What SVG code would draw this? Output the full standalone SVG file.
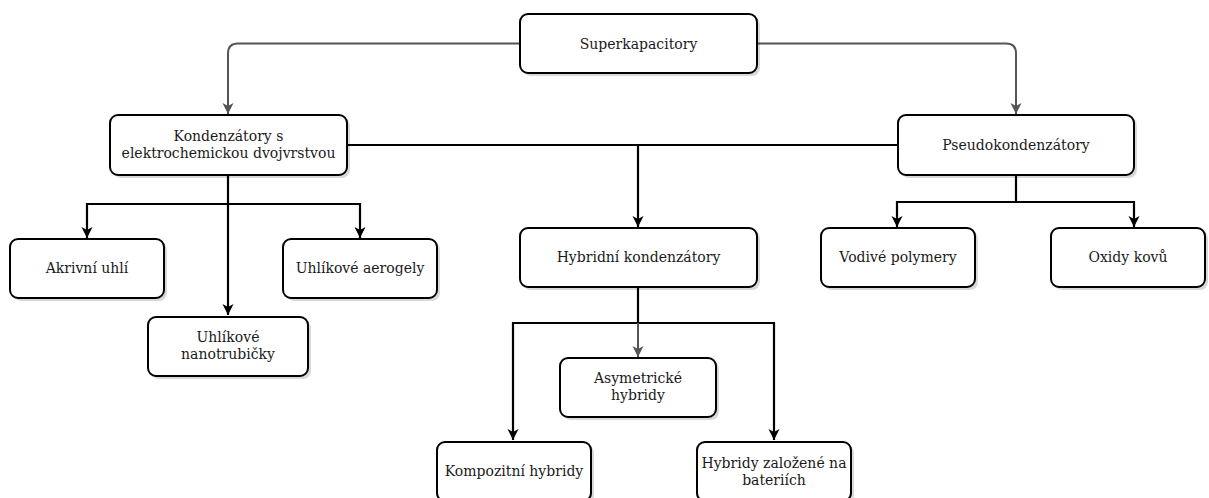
<svg xmlns="http://www.w3.org/2000/svg" width="1209" height="498" viewBox="0 0 1209 498">
<defs>
<style>
.box{fill:#fff;stroke:#000;stroke-width:2}
.sh{fill:#000;opacity:0.15}
.t{font-family:"DejaVu Serif","Liberation Serif",serif;font-size:14px;fill:#1a1a1a;text-anchor:middle}
.c{fill:none;stroke:#000;stroke-width:2.2}
.g{fill:none;stroke:#555;stroke-width:2}
</style>
<marker id="ab" markerWidth="12" markerHeight="12" refX="11" refY="6" orient="auto" markerUnits="userSpaceOnUse"><path d="M0,0.5 L11,6 L0,11.5 L3,6 z" fill="#000"/></marker>
<marker id="ag" markerWidth="12" markerHeight="12" refX="11" refY="6" orient="auto" markerUnits="userSpaceOnUse"><path d="M0,0.5 L11,6 L0,11.5 L3,6 z" fill="#555"/></marker>
</defs>
<rect width="1209" height="498" fill="#fff"/>
<g id="connectors">
<path class="g" d="M520,43.5 H238 Q228,43.5 228,53.5 V114" marker-end="url(#ag)"/>
<path class="g" d="M757,43.5 H1006 Q1016,43.5 1016,53.5 V114" marker-end="url(#ag)"/>
<path class="c" d="M347,145 H898"/>
<path class="c" d="M638,145 V227" marker-end="url(#ab)"/>
<path class="c" d="M228,175 V315" marker-end="url(#ab)"/>
<path class="c" d="M228,204 H87 V238" marker-end="url(#ab)"/>
<path class="c" d="M228,204 H360 V238" marker-end="url(#ab)"/>
<path class="c" d="M1016,175 V202"/>
<path class="c" d="M1016,202 H897 V227" marker-end="url(#ab)"/>
<path class="c" d="M1016,202 H1134 V227" marker-end="url(#ab)"/>
<path class="c" d="M638,287 V323"/>
<path class="c" d="M638,323 H513 V440" marker-end="url(#ab)"/>
<path class="c" d="M638,323 H774 V440" marker-end="url(#ab)"/>
<path class="g" d="M638,323 V357" marker-end="url(#ag)"/>
</g>
<g id="n-super"><rect class="sh" x="523" y="17" width="237" height="59" rx="8"/><rect class="box" x="520" y="14" width="237" height="59" rx="8"/><text class="t" x="638.5" y="48.5">Superkapacitory</text></g>
<g id="n-kond"><rect class="sh" x="113" y="118" width="237" height="60" rx="8"/><rect class="box" x="110" y="115" width="237" height="60" rx="8"/><text class="t" x="228.5" y="140.5">Kondenzátory s</text><text class="t" x="228.5" y="157.5">elektrochemickou dvojvrstvou</text></g>
<g id="n-pseudo"><rect class="sh" x="901" y="118" width="236" height="60" rx="8"/><rect class="box" x="898" y="115" width="236" height="60" rx="8"/><text class="t" x="1016" y="149.5">Pseudokondenzátory</text></g>
<g id="n-akriv"><rect class="sh" x="13" y="242" width="154" height="59" rx="8"/><rect class="box" x="10" y="239" width="154" height="59" rx="8"/><text class="t" x="87" y="273">Akrivní uhlí</text></g>
<g id="n-aerog"><rect class="sh" x="286" y="242" width="154" height="59" rx="8"/><rect class="box" x="283" y="239" width="154" height="59" rx="8"/><text class="t" x="360" y="273">Uhlíkové aerogely</text></g>
<g id="n-nano"><rect class="sh" x="151" y="320" width="160" height="59" rx="8"/><rect class="box" x="148" y="317" width="160" height="59" rx="8"/><text class="t" x="228" y="342">Uhlíkové</text><text class="t" x="228" y="359">nanotrubičky</text></g>
<g id="n-hybrid"><rect class="sh" x="523" y="231" width="237" height="59" rx="8"/><rect class="box" x="520" y="228" width="237" height="59" rx="8"/><text class="t" x="638.5" y="262">Hybridní kondenzátory</text></g>
<g id="n-asym"><rect class="sh" x="563" y="361" width="156" height="59" rx="8"/><rect class="box" x="560" y="358" width="156" height="59" rx="8"/><text class="t" x="638" y="383">Asymetrické</text><text class="t" x="638" y="400">hybridy</text></g>
<g id="n-komp"><rect class="sh" x="440" y="445" width="154" height="59" rx="8"/><rect class="box" x="437" y="442" width="154" height="59" rx="8"/><text class="t" x="514" y="476">Kompozitní hybridy</text></g>
<g id="n-bat"><rect class="sh" x="700" y="445" width="154" height="59" rx="8"/><rect class="box" x="697" y="442" width="154" height="59" rx="8"/><text class="t" x="774" y="468">Hybridy založené na</text><text class="t" x="774" y="485">bateriích</text></g>
<g id="n-vodive"><rect class="sh" x="824" y="231" width="154" height="59" rx="8"/><rect class="box" x="821" y="228" width="154" height="59" rx="8"/><text class="t" x="898" y="262">Vodivé polymery</text></g>
<g id="n-oxidy"><rect class="sh" x="1054" y="231" width="154" height="59" rx="8"/><rect class="box" x="1051" y="228" width="154" height="59" rx="8"/><text class="t" x="1128" y="262">Oxidy kovů</text></g>
</svg>
